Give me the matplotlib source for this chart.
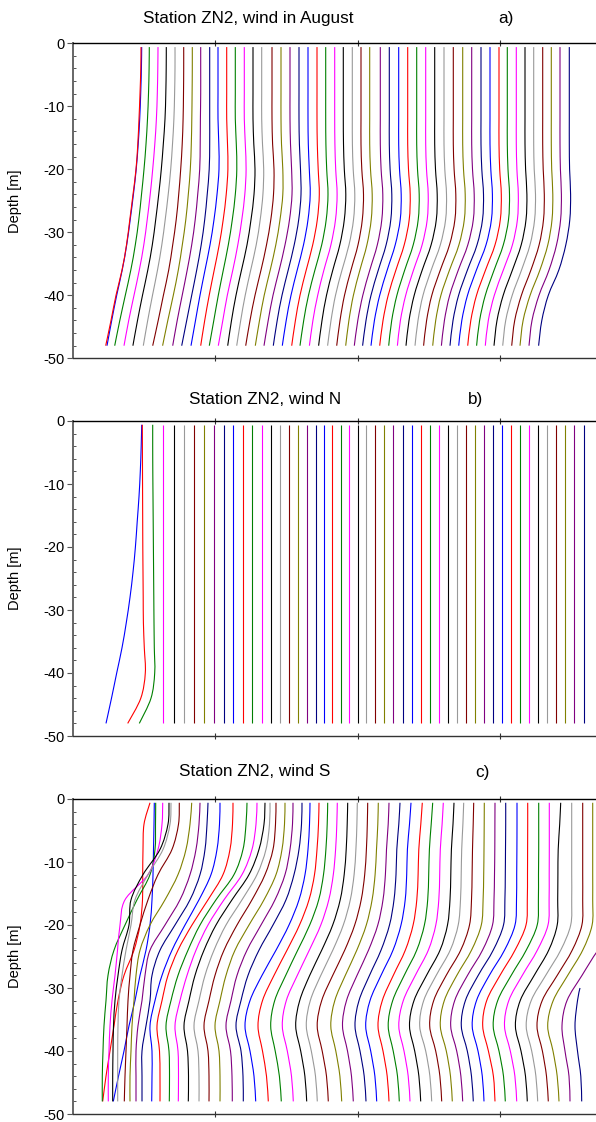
import matplotlib
matplotlib.use("Agg")
import matplotlib.pyplot as plt
from matplotlib.ticker import MultipleLocator
from matplotlib.path import Path
from matplotlib.patches import PathPatch

plt.rcParams['font.family'] = ['Liberation Sans', 'DejaVu Sans']
plt.rcParams['axes.unicode_minus'] = False

# depth levels (m) at which every profile is read
depth = [-0.6, -4, -8, -12, -16, -20, -24, -28, -32, -36, -40, -44, -48]

line_colors = ['#0000ff', '#ff0000', '#008000', '#ff00ff', '#000000',
               '#999999', '#800000', '#808000', '#800080', '#000080']

titles = ["Station ZN2, wind in August", "Station ZN2, wind N", "Station ZN2, wind S"]
panel_tags = ["a)", "b)", "c)"]
y_ticks = [0, -10, -20, -30, -40, -50]

# ---------------- panel a : top positions and shifts below the top ----------------
a_top = [141.7, 141.0, 149.3, 158.0, 166.3, 175.0, 183.7, 192.3, 200.7, 209.7,
         218.0, 226.7, 235.3, 244.3, 253.0, 261.7, 272.0, 281.0, 290.0, 299.0,
         308.0, 317.0, 325.7, 334.7, 343.3, 352.3, 361.0, 369.7, 380.3, 389.3,
         398.7, 407.7, 416.7, 425.7, 434.7, 444.0, 453.3, 462.7, 471.7, 481.0,
         490.0, 499.0, 507.3, 516.3, 525.0, 533.7, 542.7, 551.3, 560.0, 569.3]
a_shift = [
    [0, -0.3, -1.0, -2.0, -3.5, -5.5, -8.3, -11.5, -15.0, -19.5, -25.0, -30.0, -34.7],
    [0, -0.2, -1.0, -2.0, -3.2, -5.0, -8.0, -11.2, -14.5, -19.0, -25.0, -30.0, -35.3],
    [0, -0.2, -0.8, -1.8, -3.3, -5.3, -7.8, -10.5, -14.0, -18.5, -24.0, -29.5, -34.6],
    [0, -0.2, -0.7, -1.6, -3.2, -5.3, -7.8, -10.8, -14.2, -18.7, -24.0, -29.3, -34.0],
    [0, -0.1, -0.5, -1.3, -3.0, -5.0, -7.6, -10.6, -14.0, -18.5, -23.8, -28.8, -33.4],
    [0, 0, -0.4, -1.1, -2.5, -4.3, -6.8, -9.8, -13.2, -17.5, -22.5, -27.3, -31.7],
    [0, 0, -0.2, -0.6, -1.5, -3.0, -5.0, -7.5, -11.0, -15.0, -20.3, -25.5, -31.0],
    [0, 0, -0.2, -0.5, -1.0, -2.0, -4.0, -6.5, -10.0, -14.0, -19.0, -24.5, -29.7],
    [0, 0, 0, -0.3, -0.5, -1.0, -3.0, -5.5, -9.0, -13.5, -18.5, -23.5, -28.0],
    [0, 0, 0, 0, 0, -0.5, -2.5, -5.0, -8.5, -13.0, -18.0, -23.0, -28.0],
    [0, 0, 0, 0, 0.8, 1.0, -1.0, -4.0, -8.0, -13.0, -18.0, -22.5, -27.0],
    [0, 0, 0, 0, 0.8, 1.2, -0.5, -3.5, -7.5, -12.5, -17.5, -22.0, -26.0],
    [0, 0, 0, 0, 1.0, 1.5, 0, -3.0, -7.0, -12.0, -17.0, -21.5, -26.0],
    [0, 0, 0, 0, 1.0, 1.8, 0.5, -2.5, -6.5, -11.5, -17.0, -21.5, -26.0],
    [0, 0, 0, 0, 0.8, 2.0, 1.0, -2.0, -6.0, -11.5, -17.0, -21.5, -25.3],
    [0, 0, 0, 0, 0.8, 2.0, 1.2, -1.5, -5.5, -11.0, -16.5, -21.0, -25.0],
    [0, 0, 0, 0, 0.6, 2.0, 1.5, -1.2, -5.5, -11.0, -17.0, -22.0, -26.3],
    [0, 0, 0, 0, 0.5, 1.8, 1.8, -1.0, -5.2, -10.8, -16.8, -21.5, -25.7],
    [0, 0, 0, 0, 0.5, 1.6, 2.0, -0.5, -5.0, -10.8, -17.0, -21.8, -26.0],
    [0, 0, 0, 0, 0.4, 1.5, 2.0, -0.3, -4.8, -10.8, -17.0, -21.8, -25.7],
    [0, 0, 0, 0, 0.3, 1.3, 2.2, 0, -4.5, -10.8, -17.0, -21.8, -25.7],
    [0, 0, 0, 0, 0.3, 1.2, 2.3, 0.3, -4.3, -10.8, -17.0, -21.6, -25.3],
    [0, 0, 0, 0, 0.2, 1.0, 2.3, 0.5, -4.0, -10.8, -17.2, -22.0, -25.7],
    [0, 0, 0, 0, 0.2, 1.0, 2.4, 0.8, -3.8, -10.8, -17.0, -21.8, -25.3],
    [0, 0, 0, 0, 0.2, 1.0, 2.5, 1.0, -3.5, -10.5, -16.8, -21.3, -24.7],
    [0, 0, 0, 0, 0.1, 0.9, 2.5, 1.2, -3.3, -10.3, -16.8, -21.3, -24.7],
    [0, 0, 0, 0, 0, 0.8, 2.5, 1.3, -3.0, -10.0, -16.5, -21.0, -24.3],
    [0, 0, 0, 0, 0, 0.8, 2.5, 1.5, -2.8, -9.8, -16.3, -20.8, -24.0],
    [0, 0, 0, 0, 0, 0.8, 2.5, 1.5, -3.0, -10.5, -17.5, -22.5, -26.0],
    [0, 0, 0, 0, 0, 0.8, 2.5, 1.5, -3.2, -11.0, -18.3, -23.3, -26.7],
    [0, 0, 0, 0, 0, 0.8, 2.5, 1.5, -3.5, -11.5, -19.0, -24.3, -27.7],
    [0, 0, 0, 0, 0, 0.8, 2.5, 1.5, -3.5, -11.8, -19.5, -24.7, -28.0],
    [0, 0, 0, 0, 0, 0.8, 2.5, 1.5, -3.5, -12.0, -19.8, -25.0, -28.0],
    [0, 0, 0, 0, 0, 0.8, 2.5, 1.5, -3.6, -12.2, -20.0, -25.3, -28.3],
    [0, 0, 0, 0, 0, 0.8, 2.5, 1.6, -3.6, -12.5, -20.5, -25.7, -28.7],
    [0, 0, 0, 0, 0, 0.8, 2.5, 1.6, -3.7, -12.8, -21.0, -26.0, -29.0],
    [0, 0, 0, 0, 0, 0.8, 2.5, 1.6, -3.8, -13.0, -21.5, -26.7, -29.7],
    [0, 0, 0, 0, 0, 0.8, 2.5, 1.6, -3.8, -13.2, -21.8, -27.0, -30.0],
    [0, 0, 0, 0, 0, 0.8, 2.5, 1.6, -3.9, -13.4, -22.0, -27.3, -30.3],
    [0, 0, 0, 0, 0, 0.8, 2.5, 1.5, -4.0, -13.6, -22.4, -28.0, -31.0],
    [0, 0, 0, 0, 0, 0.8, 2.4, 1.4, -4.0, -13.6, -22.5, -28.2, -31.3],
    [0, 0, 0, 0, 0, 0.7, 2.3, 1.3, -4.0, -13.5, -22.5, -28.2, -31.3],
    [0, 0, 0, 0, 0, 0.7, 2.2, 1.2, -4.0, -13.2, -22.0, -27.7, -30.7],
    [0, 0, 0, 0, 0, 0.6, 2.0, 1.1, -3.9, -13.0, -22.0, -28.0, -31.0],
    [0, 0, 0, 0, 0, 0.6, 1.9, 1.0, -3.8, -12.6, -21.8, -28.0, -31.0],
    [0, 0, 0, 0, 0, 0.5, 1.8, 0.9, -3.7, -12.2, -21.5, -28.0, -31.0],
    [0, 0, 0, 0, 0, 0.5, 1.6, 0.8, -3.6, -11.8, -21.3, -28.0, -31.0],
    [0, 0, 0, 0, 0, 0.4, 1.5, 0.7, -3.5, -11.4, -21.2, -28.2, -31.3],
    [0, 0, 0, 0, 0, 0.4, 1.4, 0.6, -3.5, -11.0, -21.0, -28.0, -31.0],
    [0, 0, 0, 0, 0, 0.3, 1.3, 0.5, -3.5, -10.5, -21.0, -27.5, -30.7],
]

# ---------------- panel b ----------------
b_top = [141.7, 142.3, 152.7, 162.7, 174.0, 184.3, 194.3, 204.0, 214.0, 224.0,
         233.3, 242.7, 252.0, 261.7, 271.0, 280.3, 289.3, 298.3, 307.0, 315.7,
         324.3, 332.3, 340.7, 349.3, 357.7, 366.3, 375.3, 384.4, 393.4, 402.5,
         411.5, 420.6, 429.6, 438.7, 447.7, 456.8, 465.8, 474.9, 483.9, 493.0,
         502.0, 511.1, 520.1, 529.2, 538.2, 547.3, 556.3, 565.4, 574.4, 583.5]
b_shift_curved = [
    [0, -0.5, -1.4, -2.7, -4.5, -6.3, -8.7, -11.7, -15.4, -19.7, -25.0, -30.2, -35.7],
    [0, 0.1, 0.2, 0.3, 0.4, 0.5, 0.7, 0.9, 1.1, 2.0, 3.0, -1.5, -14.6],
    [0, 0, 0.1, 0.3, 0.5, 0.7, 0.9, 1.1, 1.3, 1.6, 2.0, -1.7, -13.4],
]
b_straight_depth = [-0.6, -48]

# ---------------- panel c : first 20 profiles as positions, the rest as top + shift -------
c_x_first = [
    [154.3, 154.0, 153.5, 153.0, 152.0, 150.0, 146.0, 140.0, 135.0, 129.0, 124.0, 118.5, 113.3],
    [150.0, 144.0, 143.0, 142.7, 142.5, 140.0, 134.0, 124.0, 118.0, 114.0, 110.0, 106.0, 102.7],
    [155.7, 155.5, 155.0, 150.0, 137.0, 125.0, 114.0, 108.0, 106.0, 104.0, 103.0, 102.3, 102.3],
    [162.7, 162.0, 158.0, 148.0, 125.0, 120.0, 117.5, 115.0, 112.0, 110.0, 109.0, 108.3, 108.3],
    [169.0, 168.0, 160.0, 143.0, 131.0, 129.0, 122.0, 118.0, 115.0, 113.5, 113.0, 112.7, 112.7],
    [171.0, 170.0, 163.0, 148.0, 135.0, 131.0, 126.0, 122.0, 119.0, 118.0, 117.7, 117.7, 117.7],
    [179.3, 178.5, 172.0, 158.0, 148.0, 140.0, 133.0, 130.0, 128.0, 127.0, 126.0, 125.0, 124.3],
    [191.7, 190.0, 186.0, 178.0, 165.0, 150.0, 140.0, 136.0, 134.0, 132.0, 131.0, 130.0, 130.0],
    [200.0, 199.0, 196.0, 190.0, 180.0, 165.0, 150.0, 145.0, 142.0, 138.0, 136.0, 136.0, 136.0],
    [208.0, 207.0, 205.0, 200.0, 190.0, 175.0, 160.0, 152.0, 150.0, 146.0, 142.0, 142.0, 142.0],
    [220.0, 219.5, 217.0, 211.0, 199.0, 185.0, 172.0, 162.0, 155.0, 150.0, 152.0, 152.0, 151.7],
    [233.0, 232.5, 230.0, 223.0, 208.0, 192.0, 178.0, 168.0, 162.0, 157.0, 159.5, 160.0, 160.0],
    [247.0, 246.0, 243.0, 234.0, 216.0, 200.0, 188.0, 178.0, 171.0, 166.0, 169.0, 169.5, 169.3],
    [257.0, 256.0, 252.0, 242.0, 224.0, 208.0, 196.0, 187.0, 180.0, 175.0, 178.0, 178.5, 178.3],
    [265.0, 264.0, 259.0, 249.0, 232.0, 216.0, 204.0, 195.0, 189.0, 184.0, 187.5, 188.5, 188.3],
    [270.0, 269.5, 266.0, 257.0, 242.0, 226.0, 214.0, 205.0, 199.0, 194.0, 198.0, 199.0, 199.0],
    [276.0, 275.5, 273.0, 265.0, 252.0, 237.0, 224.0, 215.0, 209.0, 204.0, 208.0, 209.0, 209.0],
    [285.0, 284.5, 282.0, 276.0, 264.0, 249.0, 235.0, 226.0, 220.0, 215.0, 219.0, 220.0, 220.0],
    [293.0, 292.5, 290.0, 285.0, 275.0, 261.0, 247.0, 237.0, 231.0, 226.0, 230.5, 232.0, 232.3],
    [302.0, 301.5, 299.0, 294.0, 286.0, 273.0, 259.0, 248.0, 241.0, 236.0, 241.0, 243.0, 243.3],
]
c_top_rest = [310.0, 319.0, 327.7, 337.3, 347.7, 357.3, 367.7, 378.3, 389.0, 400.0,
              411.0, 422.3, 432.7, 443.3, 454.0, 463.7, 473.7, 484.3, 495.0, 505.7,
              517.0, 527.7, 538.7, 549.3, 560.7, 571.7, 582.7, 592.7]
c_shift_rest = [
    [0, -0.5, -2.0, -5.0, -11.0, -21.0, -34.0, -48.0, -60.0, -65.0, -60.0, -56.0, -54.3],
    [0, -0.5, -2.0, -4.5, -10.0, -19.5, -32.0, -45.0, -56.5, -61.0, -56.5, -52.5, -50.7],
    [0, -0.5, -1.8, -4.2, -9.0, -18.0, -30.0, -42.0, -53.0, -57.0, -52.5, -48.3, -46.4],
    [0, -0.5, -1.7, -4.0, -8.5, -16.5, -28.0, -40.0, -51.0, -55.0, -50.0, -45.8, -44.0],
    [0, -0.5, -1.5, -3.5, -7.5, -15.0, -26.0, -38.0, -48.0, -52.0, -47.0, -42.8, -41.0],
    [0, -0.4, -1.4, -3.2, -7.0, -14.0, -24.5, -36.5, -47.0, -51.0, -46.0, -41.8, -40.0],
    [0, -0.4, -1.3, -3.0, -6.5, -13.0, -23.0, -35.0, -46.0, -50.5, -45.5, -41.2, -39.4],
    [0, -0.5, -1.8, -3.2, -6.2, -12.0, -21.5, -33.0, -43.5, -47.5, -42.5, -38.4, -36.6],
    [0, -0.8, -2.5, -3.6, -6.0, -11.2, -20.5, -32.0, -42.5, -46.5, -41.5, -37.5, -35.7],
    [0, -1.2, -3.2, -4.0, -6.0, -10.5, -19.0, -30.5, -41.0, -45.0, -40.0, -35.8, -34.0],
    [0, -1.5, -3.6, -4.3, -5.8, -10.0, -18.0, -30.0, -41.0, -45.3, -40.3, -36.1, -34.3],
    [0, -1.5, -3.5, -4.2, -5.5, -9.2, -17.0, -29.0, -40.0, -44.3, -39.3, -35.1, -33.3],
    [0, -1.5, -3.3, -4.0, -5.0, -8.3, -16.0, -28.5, -40.0, -44.5, -39.5, -35.2, -33.4],
    [0, -1.2, -3.0, -3.6, -4.5, -7.5, -15.0, -28.0, -40.0, -44.5, -39.3, -35.1, -33.3],
    [0, -1.0, -2.6, -3.2, -4.0, -6.5, -14.0, -27.5, -40.0, -44.5, -39.3, -35.1, -33.3],
    [0, -0.8, -2.0, -2.5, -3.2, -5.5, -13.5, -27.5, -40.0, -44.0, -38.0, -33.8, -32.0],
    [0, -0.5, -1.2, -1.6, -2.2, -4.2, -13.0, -27.5, -40.0, -44.0, -38.0, -33.8, -32.0],
    [0, -0.1, -0.3, -0.6, -1.2, -3.0, -12.8, -27.5, -40.0, -44.0, -38.0, -33.8, -32.0],
    [0, -0.1, -0.2, -0.5, -1.0, -2.5, -12.5, -27.5, -40.3, -44.3, -38.3, -34.1, -32.3],
    [0, 0, -0.2, -0.4, -0.8, -2.2, -12.5, -27.5, -40.3, -44.4, -38.4, -34.2, -32.4],
    [0, 0, -0.1, -0.3, -0.5, -2.0, -12.5, -27.7, -40.5, -44.8, -39.0, -34.7, -33.0],
    [0, 0, -0.1, -0.2, -0.4, -1.7, -12.7, -27.7, -41.0, -45.0, -39.3, -34.3, -32.7],
    [0, 0, 0, -0.2, -0.3, -1.5, -12.5, -27.5, -41.0, -45.5, -39.7, -35.2, -33.4],
    [0, 0, 0, -0.1, -0.2, -1.3, -12.0, -27.0, -40.5, -44.8, -39.0, -34.4, -32.6],
    [0, -1.0, -2.5, -2.8, -3.0, -3.5, -12.0, -26.5, -40.5, -45.3, -39.7, -35.2, -33.4],
    [0, 0, 0, 0, 0, -1.0, -11.0, -26.0, -40.5, -45.5, -40.0, -35.8, -34.0],
    [0, 0, 0, 0, 0, -0.8, -10.5, -25.5, -40.5, -45.7, -40.3, -36.2, -34.4],
    [0, 0, 0, 0, 0, -0.6, -10.0, -25.0, -39.5, -45.0, -39.7, -35.5, -33.7],
]
c_x_49 = [640.0, 640.0, 638.0, 636.0, 630.0, 618.0, 598.0, 582.0, 567.0, 562.0, 565.0, 569.0, 570.0]
c_depth_50 = [-30, -32, -36, -40, -44, -48]
c_x_50 = [580.0, 577.5, 575.0, 577.5, 580.8, 581.7]

# ---------------- figure ----------------
W, H = 596, 1122
fig = plt.figure(figsize=(W / 100, H / 100), dpi=100)

panel_px = [(43.3, 358.3), (421.0, 736.0), (799.0, 1114.0)]
title_px = [(248, 18), (265, 400), (255, 772)]
tag_px = [(506, 18), (476, 400), (482, 772)]
lw = 0.8


def profile(ax, xs, ys, color):
    """Draw one profile as a smooth curve passing through the read points."""
    pts = list(zip(xs, ys))
    n = len(pts)
    verts, codes = [pts[0]], [Path.MOVETO]
    if n == 2:
        verts.append(pts[1])
        codes.append(Path.LINETO)
    else:
        for i in range(n - 1):
            p0 = pts[i - 1] if i > 0 else pts[i]
            p1, p2 = pts[i], pts[i + 1]
            p3 = pts[i + 2] if i + 2 < n else pts[i + 1]
            c1 = (p1[0] + (p2[0] - p0[0]) / 6.0, p1[1] + (p2[1] - p0[1]) / 6.0)
            c2 = (p2[0] - (p3[0] - p1[0]) / 6.0, p2[1] - (p3[1] - p1[1]) / 6.0)
            verts += [c1, c2, p2]
            codes += [Path.CURVE4] * 3
    ax.add_patch(PathPatch(Path(verts, codes), fill=False, edgecolor=color, lw=lw,
                           joinstyle='round', capstyle='butt'))


axes = []
for i, (top, bot) in enumerate(panel_px):
    ax = fig.add_axes([72.5 / W, 1 - bot / H, 570 / W, (bot - top) / H])
    ax.set_yticks(y_ticks)
    ax.yaxis.set_minor_locator(MultipleLocator(2))
    ax.set_xticks([215.0, 357.5, 500.0])
    ax.tick_params(axis='x', which='major', direction='inout', length=4, width=0.8,
                   top=True, bottom=True, labelbottom=False, labeltop=False, color='#333333')
    ax.tick_params(axis='y', which='major', direction='out', length=4, width=0.8,
                   labelsize=10.5, pad=2, color='#555555')
    ax.tick_params(axis='y', which='minor', direction='in', length=2.5, width=0.7,
                   color='#555555')
    ax.spines['right'].set_visible(False)
    ax.spines['left'].set_color('#666666')
    ax.spines['left'].set_linewidth(1.4)
    ax.spines['top'].set_linewidth(1.0)
    ax.spines['bottom'].set_linewidth(1.0)
    ax.spines['bottom'].set_color('#333333')
    ax.set_ylabel('Depth [m]', fontsize=10.5)
    ax.yaxis.set_label_coords((22 - 72.5) / 570, 0.5)
    fig.text(title_px[i][0] / W, 1 - title_px[i][1] / H, titles[i],
             ha='center', va='center', fontsize=12.3)
    fig.text(tag_px[i][0] / W, 1 - tag_px[i][1] / H, panel_tags[i],
             ha='center', va='center', fontsize=12.3)
    axes.append(ax)

ax_a, ax_b, ax_c = axes
for k, (t, sh) in enumerate(zip(a_top, a_shift)):
    profile(ax_a, [t + s for s in sh], depth, line_colors[k % 10])

for k, t in enumerate(b_top):
    if k < len(b_shift_curved):
        profile(ax_b, [t + s for s in b_shift_curved[k]], depth, line_colors[k % 10])
    else:
        profile(ax_b, [t, t], b_straight_depth, line_colors[k % 10])

n_first = len(c_x_first)
for k, xs in enumerate(c_x_first):
    profile(ax_c, xs, depth, line_colors[k % 10])
for j, (t, sh) in enumerate(zip(c_top_rest, c_shift_rest)):
    k = n_first + j
    profile(ax_c, [t + s for s in sh], depth, line_colors[k % 10])
profile(ax_c, c_x_49, depth, line_colors[48 % 10])
profile(ax_c, c_x_50, c_depth_50, line_colors[49 % 10])

for ax in axes:
    ax.set_xlim(72.5, 642.5)
    ax.set_ylim(-50, 0)

fig.savefig('out.png', dpi=100)
